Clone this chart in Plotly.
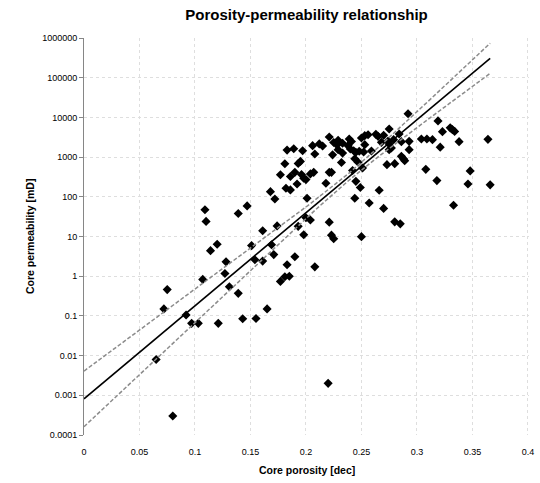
import numpy as np
import plotly.graph_objects as go

# ---- data ----
porosity = [
    0.065, 0.072, 0.075, 0.080, 0.092, 0.097, 0.103, 0.107, 0.109, 0.110,
    0.114, 0.120, 0.121, 0.127, 0.128, 0.131, 0.139, 0.139, 0.143, 0.147,
    0.151, 0.154, 0.155, 0.161, 0.161, 0.165, 0.168, 0.169, 0.171, 0.172,
    0.174, 0.177, 0.177, 0.181, 0.181, 0.182, 0.183, 0.183, 0.185, 0.186,
    0.186, 0.189, 0.190, 0.190, 0.192, 0.193, 0.193, 0.195, 0.197, 0.196,
    0.198, 0.200, 0.198, 0.201, 0.200, 0.204, 0.204, 0.207, 0.206, 0.208,
    0.208, 0.212, 0.215, 0.218, 0.221, 0.221, 0.223, 0.224, 0.221, 0.223,
    0.225, 0.225, 0.228, 0.229, 0.229, 0.233, 0.233, 0.232, 0.239, 0.241,
    0.238, 0.240, 0.243, 0.245, 0.244, 0.242, 0.245, 0.249, 0.244, 0.248,
    0.252, 0.250, 0.253, 0.256, 0.253, 0.247, 0.251, 0.250, 0.257, 0.259,
    0.263, 0.265, 0.268, 0.270, 0.274, 0.275, 0.277, 0.279, 0.266, 0.270,
    0.273, 0.280, 0.275, 0.275, 0.284, 0.286, 0.292, 0.293, 0.293, 0.286,
    0.288, 0.289, 0.280, 0.285, 0.304, 0.309, 0.314, 0.319, 0.323, 0.330,
    0.332, 0.334, 0.338, 0.321, 0.364, 0.308, 0.318, 0.348, 0.346, 0.366,
    0.333, 0.220,
]
permeability = [
    0.008, 0.15, 0.46, 0.0003, 0.105, 0.065, 0.065, 0.83, 47, 24,
    4.4, 6.4, 0.065, 1.17, 2.3, 0.54, 0.37, 38, 0.085, 59,
    5.9, 2.6, 0.086, 14, 2.4, 0.15, 135, 6.2, 3.5, 88,
    18.5, 360, 0.74, 680, 0.97, 164, 1500, 1.94, 1.0, 326,
    149, 1630, 413, 3.1, 211, 18, 690, 780, 1450, 366,
    295, 271, 11.1, 92, 29.6, 26, 377, 413, 1940, 1200,
    1.72, 2150, 1910, 219, 3210, 413, 413, 1140, 23, 10.8,
    8.8, 2340, 2020, 2640, 1540, 2240, 1260, 730, 2860, 2480,
    1940, 1600, 1450, 1320, 910, 460, 245, 172, 92, 1400,
    1350, 3030, 3470, 3670, 2060, 740, 530, 9.9, 70, 1430,
    3740, 3330, 2350, 3530, 2550, 2140, 1700, 2750, 146, 51,
    646, 684, 5100, 1540, 3820, 2450, 12400, 2490, 1540, 1045,
    900, 814, 23.4, 20.8, 2860, 2860, 2750, 8170, 4370, 5450,
    4910, 4440, 2450, 1780, 2800, 492, 256, 449, 211, 200,
    61, 0.002,
]

x_tick_values = [0, 0.05, 0.1, 0.15, 0.2, 0.25, 0.3, 0.35, 0.4]
x_tick_labels = ["0", "0.05", "0.1", "0.15", "0.2", "0.25", "0.3", "0.35", "0.4"]
y_tick_values = [1e-4, 1e-3, 1e-2, 1e-1, 1, 10, 100, 1e3, 1e4, 1e5, 1e6]
y_tick_labels = ["0.0001", "0.001", "0.01", "0.1", "1", "10", "100",
                 "1000", "10000", "100000", "1000000"]

# regression (log10 k = a + b * phi) and its confidence band
fit_intercept = -3.09
fit_slope = 23.44
band_min_halfwidth = 0.09
band_center = 0.239
band_curvature = 8.44

# ---- derived curves ----
x_fit = np.linspace(0, max(porosity), 200)
log_fit = fit_intercept + fit_slope * x_fit
half = np.sqrt(band_min_halfwidth ** 2 + band_curvature * (x_fit - band_center) ** 2)
y_fit = 10 ** log_fit
y_up = 10 ** (log_fit + half)
y_lo = 10 ** (log_fit - half)

fig = go.Figure()
fig.add_trace(go.Scatter(x=porosity, y=permeability, mode="markers",
                         marker=dict(symbol="diamond", size=7, color="black"),
                         showlegend=False))
band_line = dict(color="#8c8c8c", width=1.5, dash="4px,2px")
fig.add_trace(go.Scatter(x=x_fit, y=y_up, mode="lines", line=band_line, showlegend=False))
fig.add_trace(go.Scatter(x=x_fit, y=y_lo, mode="lines", line=band_line, showlegend=False))
fig.add_trace(go.Scatter(x=x_fit, y=y_fit, mode="lines",
                         line=dict(color="black", width=1.6),
                         showlegend=False))

grid = "#dedede"
fig.update_layout(
    width=540, height=483, autosize=False,
    margin=dict(l=84, r=6, t=38, b=48),
    paper_bgcolor="white", plot_bgcolor="white",
    font=dict(family="Liberation Sans, Arial, sans-serif", color="black"),
    title=dict(text="<b>Porosity-permeability relationship</b>",
               x=0.5, xref="paper", xanchor="center",
               y=1 - 15 / 483, yref="container", yanchor="middle",
               font=dict(size=15, color="black")),
    xaxis=dict(range=[0, 0.401], tickvals=x_tick_values, ticktext=x_tick_labels,
               showgrid=True, gridcolor=grid, griddash="3px,3px", gridwidth=1,
               zeroline=False, showline=False, ticklabeloverflow="allow",
               ticks="outside", ticklen=8, tickcolor="rgba(0,0,0,0)",
               tickfont=dict(size=9, color="black")),
    yaxis=dict(type="log", range=[-4, 6], tickvals=y_tick_values, ticktext=y_tick_labels,
               showgrid=True, gridcolor=grid, griddash="3px,3px", gridwidth=1,
               zeroline=False, showline=True, linecolor="#868686", linewidth=1,
               ticks="outside", ticklen=4, tickcolor="#868686",
               tickfont=dict(size=9, color="black")),
    annotations=[
        dict(text="<b>Core porosity [dec]</b>", xref="paper", yref="paper",
             x=0.5, y=-35 / 397, xanchor="center", yanchor="middle",
             showarrow=False, font=dict(size=10.5, color="black")),
        dict(text="<b>Core permeability [mD]</b>", xref="paper", yref="paper",
             x=-55 / 450, y=0.5, xanchor="center", yanchor="middle", textangle=-90,
             showarrow=False, font=dict(size=10.5, color="black")),
    ],
)

fig.write_html("out.html",
               config={"displayModeBar": False},
               post_script="document.body.style.margin='0px';"
                           "document.body.style.overflow='hidden';")
